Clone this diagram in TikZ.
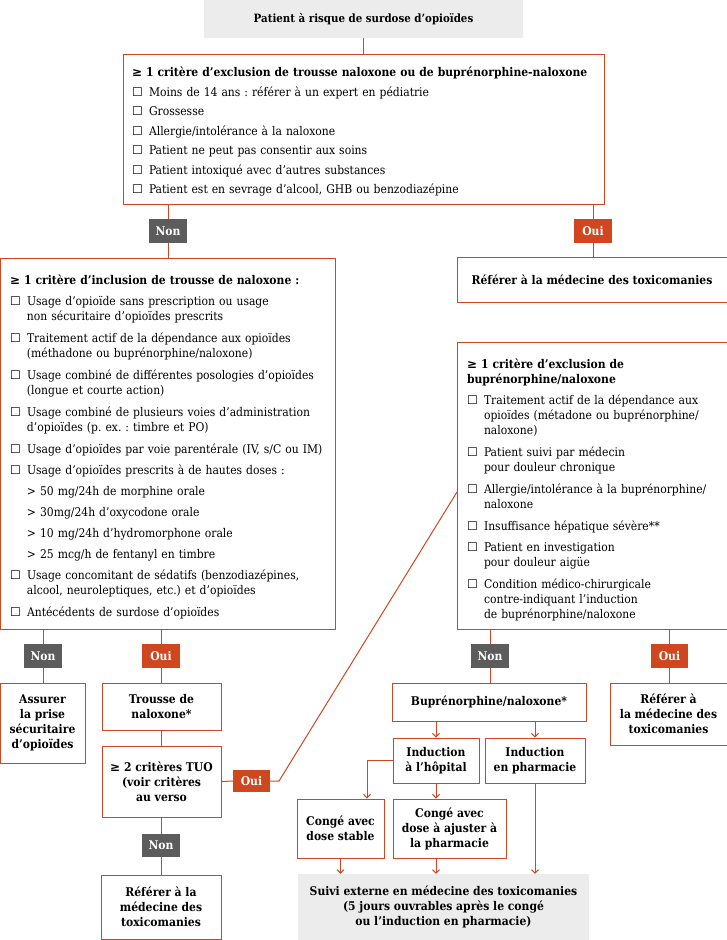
\documentclass[tikz,border=0pt]{standalone}
\usepackage{fontspec}
\setmainfont{DejaVu Serif Condensed}
\newfontfamily\symfont{DejaVu Sans}
\usepackage{tikz}
\usetikzlibrary{arrows.meta,positioning}
\definecolor{critorange}{RGB}{208,70,30}
\definecolor{nongray}{RGB}{92,92,92}
\definecolor{boxgray}{RGB}{236,236,236}
\frenchspacing
\newcommand{\gsym}{{\symfont ≥}}
\newcommand{\chkbox}{\makebox[17pt][l]{\symfont ☐}}
\newcommand{\crit}[1]{\par\noindent\chkbox\begin{tabular}[t]{@{}l@{}}#1\end{tabular}}
\newcommand{\subcrit}[1]{\par\noindent\hspace*{17pt}#1}
\newcommand{\headlift}[1]{\rule{0pt}{#1}}

\begin{document}
\begin{tikzpicture}[x=1pt,y=-1pt,font=\fontsize{12}{15}\selectfont,
  >={Straight Barb[length=3.5pt,width=7pt]},
  box/.style={draw=critorange,line width=1pt,align=center,inner sep=2pt,
    font=\fontsize{12}{15}\selectfont\bfseries},
  critbox/.style={draw=critorange,line width=1pt,align=left,inner xsep=10pt,inner ysep=0pt,
    execute at begin node={\setlength{\parskip}{#1}}},
  critbox/.default=6pt,
  graybox/.style={fill=boxgray,align=center,inner sep=0pt,font=\fontsize{12}{15}\selectfont\bfseries},
  non/.style={fill=nongray,text=white,inner sep=0pt,minimum width=38pt,minimum height=24pt,
    font=\fontsize{12}{15}\selectfont\bfseries},
  oui/.style={non,fill=critorange},
  link/.style={draw=critorange,line width=1pt},
  arr/.style={link,->}]
\useasboundingbox (0,0) rectangle (727,940);

% top of the chart
\node[graybox,minimum width=319pt,minimum height=38pt,font=\fontsize{11.4}{15}\selectfont\bfseries] (risk) at (363.5,19) {Patient à risque de surdose d'opioïdes};
\node[critbox=4.5pt,inner xsep=9pt,text width=463pt,minimum height=150pt] (excl) at (363.5,129) {%
  {\bfseries\headlift{16.5pt}\gsym{} 1 critère d'exclusion de trousse naloxone ou de buprénorphine-naloxone}
  \crit{Moins de 14 ans : référer à un expert en pédiatrie}
  \crit{Grossesse}
  \crit{Allergie/intolérance à la naloxone}
  \crit{Patient ne peut pas consentir aux soins}
  \crit{Patient intoxiqué avec d'autres substances}
  \crit{Patient est en sevrage d'alcool, GHB ou benzodiazépine}};
\draw[link] (risk) -- (excl);

\node[non] (non1) at (168,231) {Non};
\node[oui] (oui1) at (593,231) {Oui};

% left column
\node[critbox,text width=315pt,minimum height=371pt] (incl) at (167.5,443.5) {%
  {\bfseries\headlift{17.5pt}\gsym{} 1 critère d'inclusion de trousse de naloxone :}
  \crit{Usage d'opioïde sans prescription ou usage\\non sécuritaire d'opioïdes prescrits}
  \crit{Traitement actif de la dépendance aux opioïdes\\(méthadone ou buprénorphine/naloxone)}
  \crit{Usage combiné de différentes posologies d'opioïdes\\(longue et courte action)}
  \crit{Usage combiné de plusieurs voies d'administration\\d'opioïdes (p. ex. : timbre et PO)}
  \crit{Usage d'opioïdes par voie parentérale (IV, s/C ou IM)}
  \crit{Usage d'opioïdes prescrits à de hautes doses :}
  \subcrit{> 50 mg/24h de morphine orale}
  \subcrit{> 30mg/24h d'oxycodone orale}
  \subcrit{> 10 mg/24h d'hydromorphone orale}
  \subcrit{> 25 mcg/h de fentanyl en timbre}
  \crit{Usage concomitant de sédatifs (benzodiazépines,\\alcool, neuroleptiques, etc.) et d'opioïdes}
  \crit{Antécédents de surdose d'opioïdes}};
\draw[link] (excl.south -| non1) -- (non1.north);
\draw[link] (non1.south) -- (incl.north -| non1);

% right column
\node[box,minimum width=270pt,minimum height=45pt] (ref1) at (592,279.5) {Référer à la médecine des toxicomanies};
\draw[link] (excl.south -| oui1) -- (oui1.north);
\draw[link] (oui1.south) -- (ref1.north -| oui1);

\node[critbox,text width=250pt,minimum height=287pt] (buexcl) at (592,485.5) {%
  {\bfseries\headlift{19.5pt}\gsym{} 1 critère d'exclusion de\\buprénorphine/naloxone}
  \crit{Traitement actif de la dépendance aux\\opioïdes (métadone ou buprénorphine/\\naloxone)}
  \crit{Patient suivi par médecin\\pour douleur chronique}
  \crit{Allergie/intolérance à la buprénorphine/\\naloxone}
  \crit{Insuffisance hépatique sévère**}
  \crit{Patient en investigation\\pour douleur aigüe}
  \crit{Condition médico-chirurgicale\\contre-indiquant l'induction\\de buprénorphine/naloxone}};

% below the inclusion box
\node[non] (non2) at (43,656) {Non};
\node[oui] (oui2) at (161,656) {Oui};
\node[box,minimum width=85pt,minimum height=80pt] (safe) at (42.5,723) {Assurer\\la prise\\sécuritaire\\d'opioïdes};
\node[box,minimum width=119pt,minimum height=47pt] (kit) at (161.5,706.5) {Trousse de\\naloxone*};
\node[box,minimum width=119pt,minimum height=71pt,below=15pt of kit] (tuo) {\gsym{} 2 critères TUO\\(voir critères\\au verso};
\node[oui,minimum width=37pt,minimum height=22pt] (oui3) at (251.5,781) {Oui};
\node[non,minimum height=23pt] (non3) at (161,845.5) {Non};
\node[box,minimum width=120pt,minimum height=64pt] (ref2) at (161,907) {Référer à la\\médecine des\\toxicomanies};
\draw[link] (incl.south -| non2) -- (non2.north);
\draw[link] (non2.south) -- (safe.north -| non2);
\draw[link] (incl.south -| oui2) -- (oui2.north);
\draw[link] (oui2.south) -- (kit.north -| oui2);
\draw[link] (kit) -- (tuo);
\draw[link] (tuo.south -| non3) -- (non3.north);
\draw[link] (non3.south) -- (ref2.north -| non3);
\coordinate (bend) at (279,781);
\coordinate (hit) at (457,492);
\draw[link] (tuo.east) -- (oui3.west);
\draw[link] (oui3.east) -- (bend) -- (hit);

% below the buprenorphine box
\node[non] (non4) at (490,656) {Non};
\node[oui,minimum width=37pt] (oui4) at (669.5,656) {Oui};
\node[box,minimum width=194pt,minimum height=38pt] (bup) at (489,702) {Buprénorphine/naloxone*};
\node[box,minimum width=117pt,minimum height=62pt] (ref3) at (668.5,714) {Référer à\\la médecine des\\toxicomanies};
\node[box,minimum width=86pt,minimum height=45pt] (hosp) at (436,760.5) {Induction\\à l'hôpital};
\node[box,minimum width=100pt,minimum height=45pt] (pharm) at (535,760.5) {Induction\\en pharmacie};
\node[box,minimum width=87pt,minimum height=59pt] (stable) at (340.5,828.5) {Congé avec\\dose stable};
\node[box,minimum width=113pt,minimum height=59pt] (adjust) at (449.5,828.5) {Congé avec\\dose à ajuster à\\la pharmacie};
\node[graybox,minimum width=291pt,minimum height=66pt] (suivi) at (443.5,907) {Suivi externe en médecine des toxicomanies\\(5 jours ouvrables après le congé\\ou l'induction en pharmacie)};
\draw[link] (buexcl.south -| non4) -- (non4.north);
\draw[link] (non4.south) -- (bup.north -| non4);
\draw[link] (buexcl.south -| oui4) -- (oui4.north);
\draw[link] (oui4.south) -- (ref3.north -| oui4);
\draw[arr] (bup.south -| hosp) -- (hosp.north);
\draw[arr] (bup.south -| pharm) -- (pharm.north);
\coordinate (hturn) at (367,760.5);
\draw[arr] (hosp.west) -- (hturn) -- (hturn |- stable.north);
\draw[arr] (hosp.south) -- (hosp.south |- adjust.north);
\draw[arr] (stable.south) -- (stable.south |- suivi.north);
\draw[arr] (adjust.south -| hosp) -- (hosp |- suivi.north);
\draw[arr] (pharm.south) -- (pharm.south |- suivi.north);
\end{tikzpicture}
\end{document}
